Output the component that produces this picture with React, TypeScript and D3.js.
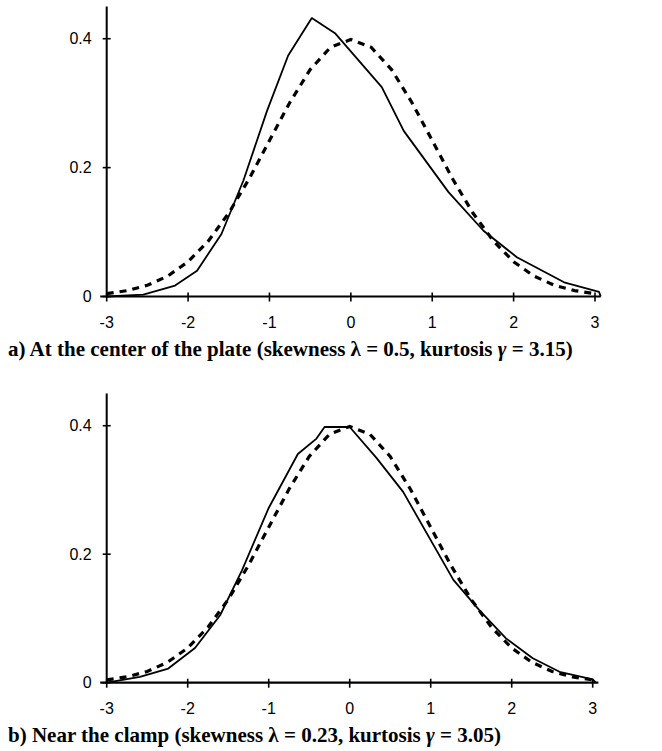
import * as d3 from "d3";

// x positions of the dashed reference curve (normal density)
const refX = [-3, -2.75, -2.5, -2.25, -2, -1.75, -1.5, -1.25, -1, -0.75, -0.5, -0.25, 0,
  0.25, 0.5, 0.75, 1, 1.25, 1.5, 1.75, 2, 2.25, 2.5, 2.75, 3];
const refY = [0.0044, 0.0091, 0.0175, 0.0317, 0.054, 0.0863, 0.1295, 0.1826, 0.242, 0.3011,
  0.3521, 0.3867, 0.3989, 0.3867, 0.3521, 0.3011, 0.242, 0.1826, 0.1295, 0.0863, 0.054,
  0.0317, 0.0175, 0.0091, 0.0044];

// panel a) measured distribution
const aX = [-3, -2.55, -2.16, -1.89, -1.59, -1.32, -1.03, -0.77, -0.48, -0.19, 0.38, 0.65,
  1.2, 1.63, 2.04, 2.62, 3.05, 3.07];
const aY = [0, 0.003, 0.017, 0.04, 0.097, 0.18, 0.288, 0.374, 0.432, 0.408, 0.325, 0.257,
  0.162, 0.102, 0.061, 0.022, 0.007, 0];

// panel b) measured distribution
const bX = [-3, -2.59, -2.24, -1.91, -1.6, -1.33, -1.0, -0.64, -0.41, -0.31, 0, 0.33, 0.66,
  1.28, 1.6, 1.93, 2.26, 2.59, 3.0, 3.04];
const bY = [0, 0.009, 0.022, 0.054, 0.105, 0.175, 0.272, 0.356, 0.38, 0.398, 0.398, 0.35,
  0.297, 0.16, 0.113, 0.069, 0.038, 0.017, 0.005, 0];

const xTicks = [-3, -2, -1, 0, 1, 2, 3];
const yTicks = [0, 0.2, 0.4];
const yTickLabels = ["0", "0.2", "0.4"];

type Pt = [number, number];

function Panel(props: {
  xs: number[]; ys: number[]; x0: number; x1: number; yBase: number; yTop: number;
  captionY: number; label: string; skew: string; kurt: string;
}) {
  const { xs, ys, x0, x1, yBase, yTop, captionY, label, skew, kurt } = props;
  const x = d3.scaleLinear().domain([-3, 3]).range([x0, x1]);
  const y = d3.scaleLinear().domain([0, 0.45]).range([yBase, yTop]);
  const line = d3.line<Pt>().x(d => x(d[0])).y(d => y(d[1]));
  const meas: Pt[] = xs.map((v, i) => [v, ys[i]]);
  const ref: Pt[] = refX.map((v, i) => [v, refY[i]]);
  const axisFont = "'Liberation Sans', Arial, sans-serif";
  return (
    <g>
      <path d={line(ref) || ""} fill="none" stroke="#000" strokeWidth={3.2}
        strokeDasharray="7,6" />
      <path d={line(meas) || ""} fill="none" stroke="#000" strokeWidth={1.8}
        strokeLinejoin="round" />
      {/* y axis */}
      <line x1={x(-3)} x2={x(-3)} y1={y(0)} y2={y(0.45)} stroke="#000" strokeWidth={2} />
      {yTicks.map((t, i) => (
        <g key={t}>
          <line x1={x(-3) - 4} x2={x(-3) + 4} y1={y(t)} y2={y(t)} stroke="#000" strokeWidth={1.6} />
          <text x={x(-3) - 15} y={y(t)} dy="0.36em" textAnchor="end" fontSize={16}
            fontFamily={axisFont}>{yTickLabels[i]}</text>
        </g>
      ))}
      {/* x axis */}
      <line x1={x(-3.08)} x2={x(3.07)} y1={y(0)} y2={y(0)} stroke="#000" strokeWidth={2.2} />
      {xTicks.map(t => (
        <g key={t}>
          <line x1={x(t)} x2={x(t)} y1={y(0) - 4} y2={y(0) + 5} stroke="#000" strokeWidth={1.6} />
          <text x={x(t)} y={y(0) + 26} dy="0.36em" textAnchor="middle" fontSize={16}
            fontFamily={axisFont}>{t}</text>
        </g>
      ))}
      <text x={8} y={captionY} fontSize={21} fontWeight="bold"
        fontFamily="'Liberation Serif', 'Times New Roman', serif">
        {label} (skewness λ = {skew}, kurtosis <tspan fontStyle="italic">γ</tspan> = {kurt})
      </text>
    </g>
  );
}

export default function App() {
  return (
    <svg width={662} height={751} style={{ position: "absolute", left: 0, top: 0, background: "#fff" }}>
      <rect width={662} height={751} fill="#fff" />
      <Panel xs={aX} ys={aY} x0={106.7} x1={595} yBase={296.5} yTop={6.5}
        captionY={356} label="a) At the center of the plate" skew="0.5" kurt="3.15" />
      <Panel xs={bX} ys={bY} x0={106.7} x1={592.7} yBase={682.7} yTop={393.6}
        captionY={742} label="b) Near the clamp" skew="0.23" kurt="3.05" />
    </svg>
  );
}
